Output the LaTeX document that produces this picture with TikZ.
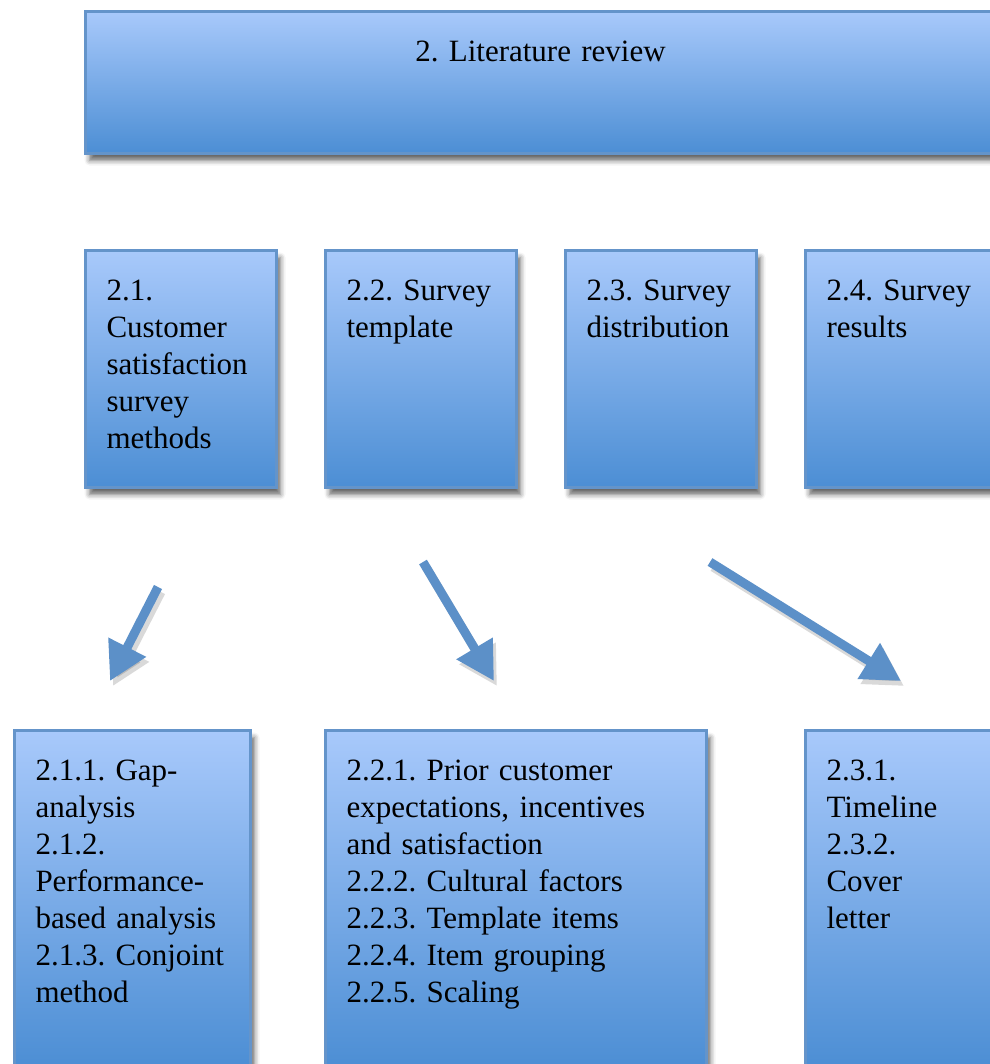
\documentclass[tikz,border=0pt]{standalone}
\usepackage{fontspec}
\setmainfont{Liberation Serif}
\usepackage{tikz}
\usetikzlibrary{arrows.meta,shadows,shadows.blur}
\definecolor{myboxtop}{RGB}{168,201,251}
\definecolor{myboxbottom}{RGB}{76,142,212}
\definecolor{myboxline}{RGB}{100,148,202}
\definecolor{myarrowblue}{RGB}{92,144,200}
\hyphenpenalty=10000
\exhyphenpenalty=10000

\begin{document}
\frenchspacing
\begin{tikzpicture}[
  x=1bp, y=-1bp,
  mybox/.style 2 args={
    draw=myboxline,
    line width=3bp,
    top color=myboxtop,
    bottom color=myboxbottom,
    blur shadow={shadow xshift=4bp, shadow yshift=-7bp, shadow blur radius=5bp, shadow opacity=60},
    anchor=north west,
    inner xsep=21bp,
    inner ysep=28bp,
    text width=#1,
    text height=22bp,
    text depth=#2,
    align=left,
    font=\fontsize{31bp}{37bp}\selectfont
    },
  myarrow/.style={
    draw=myarrowblue,
    line width=9bp,
    -{Triangle[length=38bp,width=40bp]}
  },
  myarrowshadow/.style={
    myarrow,
    draw=black,
    opacity=0.15
  }
]
\path[use as bounding box] (0,0) rectangle (990,1064);
\clip (0,0) rectangle (990,1064);

% top level
\node[mybox={868bp}{64bp}, align=center] (lit) at (84,10) {2. Literature review};

% second level
\foreach \Sect [count=\Secti from 0] in {
  {2.1.\\Customer\\satisfaction\\survey\\methods},
  {2.2.~Survey\\template},
  {2.3.~Survey\\distribution},
  {2.4.~Survey\\results}}
  \node[mybox={149bp}{159bp}] (sec\Secti) at (84+240*\Secti,249) {\Sect};

% third level
\node[mybox={194bp}{259bp}] (sub1) at (13,729)
  {2.1.1.~Gap-\\analysis\\2.1.2.\\Performance-\\based~analysis\\2.1.3.~Conjoint\\method};
\node[mybox={339bp}{259bp}] (sub2) at (324,729)
  {2.2.1. Prior customer\\expectations, incentives\\and satisfaction\\2.2.2. Cultural factors\\2.2.3. Template items\\2.2.4. Item grouping\\2.2.5. Scaling};
\node[mybox={149bp}{259bp}] (sub3) at (804,729)
  {2.3.1.\\Timeline\\2.3.2.\\Cover\\letter};

% arrows
\coordinate (a1s) at (158,587);
\coordinate (a1e) at (110,681);
\coordinate (a2s) at (423,562);
\coordinate (a2e) at (494,681);
\coordinate (a3s) at (710,562);
\coordinate (a3e) at (901,681);
\foreach \Arr in {a1,a2,a3}{
  \draw[myarrowshadow] ([shift={(3,5)}]\Arr s) -- ([shift={(3,5)}]\Arr e);
  \draw[myarrow] (\Arr s) -- (\Arr e);
}

\end{tikzpicture}
\end{document}
